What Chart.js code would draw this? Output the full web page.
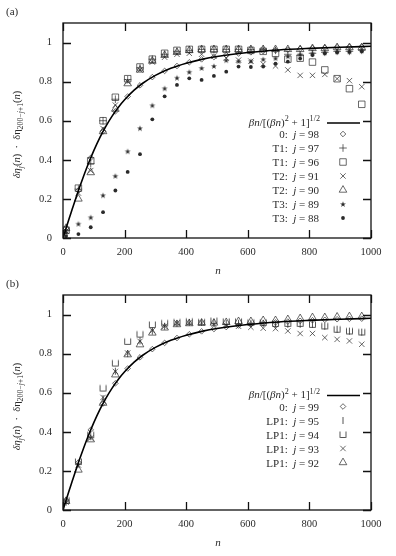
<!DOCTYPE html>
<html><head><meta charset="utf-8">
<script src="https://cdn.jsdelivr.net/npm/chart.js@4/dist/chart.umd.min.js"></script>
<style>
html,body{margin:0;padding:0;background:#fff;}
#wrap{position:relative;width:396px;height:556px;overflow:hidden;background:#fff}
.pane{position:absolute;left:0;width:396px}
</style></head><body>
<div id="wrap">
<div class="pane" style="top:0;height:280px"><canvas id="ca" width="396" height="280"></canvas></div>
<div class="pane" style="top:272px;height:284px"><canvas id="cb" width="396" height="284"></canvas></div>
</div>
<script>
// ---------- data ----------
const nVals = [10,50,90,130,170,210,250,290,330,370,410,450,490,530,570,610,650,690,730,770,810,850,890,930,970];
const xTickVals = [0,200,400,600,800,1000];
const yTickVals = [0,0.2,0.4,0.6,0.8,1];
// reference curve beta*n/[(beta*n)^2+1]^(1/2)
const curveN = [0,10,20,30,40,50,60,80,100,120,140,160,180,200,230,260,300,350,400,450,500,600,700,800,900,1000];
const curveV = [0,0.050,0.100,0.148,0.196,0.243,0.287,0.371,0.447,0.515,0.574,0.625,0.669,0.707,0.755,0.793,0.832,0.868,0.894,0.914,0.929,0.949,0.962,0.970,0.976,0.981];
// panel (a)
const a_0_j98  = [0.05,0.243,0.41,0.545,0.648,0.724,0.781,0.823,0.855,0.88,0.899,0.914,0.926,0.936,0.944,0.95,0.956,0.96,0.964,0.968,0.971,0.973,0.976,0.978,0.979];
const a_T1_j97 = [0.04,0.25,0.38,0.6,0.71,0.81,0.87,0.915,0.94,0.955,0.96,0.965,0.965,0.965,0.965,0.965,0.965,0.96,0.94,0.935,0.945,0.95,0.955,0.955,0.96];
const a_T1_j96 = [0.04,0.255,0.395,0.6,0.72,0.815,0.875,0.915,0.945,0.96,0.965,0.965,0.965,0.965,0.965,0.96,0.955,0.945,0.915,0.92,0.9,0.86,0.815,0.764,0.684];
const a_T2_j91 = [0.035,0.23,0.345,0.56,0.68,0.8,0.86,0.9,0.925,0.94,0.945,0.94,0.93,0.92,0.91,0.905,0.89,0.88,0.86,0.832,0.832,0.837,0.815,0.805,0.774];
const a_T2_j90 = [0.05,0.2,0.335,0.545,0.66,0.79,0.86,0.905,0.935,0.95,0.96,0.965,0.965,0.965,0.965,0.965,0.965,0.965,0.965,0.965,0.97,0.97,0.975,0.975,0.975];
const a_T3_j89 = [0.03,0.073,0.106,0.219,0.318,0.444,0.562,0.679,0.766,0.82,0.85,0.87,0.88,0.91,0.905,0.905,0.915,0.92,0.93,0.94,0.945,0.95,0.955,0.955,0.96];
const a_T3_j88 = [0.01,0.02,0.055,0.132,0.243,0.338,0.429,0.607,0.725,0.783,0.817,0.809,0.829,0.851,0.877,0.875,0.877,0.892,0.902,0.918,0.936,0.945,0.95,0.952,0.955];
// panel (b)
const b_0_j99   = [0.05,0.243,0.41,0.545,0.648,0.724,0.781,0.823,0.855,0.88,0.899,0.914,0.926,0.936,0.944,0.95,0.956,0.96,0.964,0.968,0.971,0.973,0.976,0.978,0.979];
const b_LP1_j95 = [0.04,0.235,0.375,0.57,0.71,0.8,0.865,0.915,0.94,0.955,0.96,0.96,0.96,0.955,0.955,0.955,0.955,0.95,0.95,0.95,0.95,0.94,0.925,0.915,0.91];
const b_LP1_j94 = [0.05,0.248,0.385,0.624,0.752,0.863,0.9,0.949,0.957,0.962,0.966,0.962,0.969,0.965,0.965,0.96,0.96,0.955,0.955,0.955,0.95,0.942,0.925,0.916,0.911];
const b_LP1_j93 = [0.04,0.23,0.368,0.576,0.709,0.803,0.863,0.918,0.94,0.957,0.957,0.957,0.949,0.945,0.94,0.935,0.93,0.928,0.916,0.903,0.903,0.882,0.873,0.865,0.848];
const b_LP1_j92 = [0.045,0.205,0.36,0.547,0.692,0.795,0.846,0.906,0.932,0.949,0.954,0.957,0.957,0.96,0.965,0.965,0.97,0.97,0.975,0.98,0.985,0.985,0.988,0.99,0.99];

// ---------- styling ----------
const INK = '#2a2a2a';
const SERIF = '"Liberation Serif", "DejaVu Serif", serif';

function starImg(){
  const c=document.createElement('canvas'); c.width=8; c.height=8;
  const g=c.getContext('2d'); g.fillStyle=INK; g.beginPath();
  for(let i=0;i<10;i++){const r=i%2?1.2:3.1; const a=-Math.PI/2+i*Math.PI/5; g.lineTo(4+r*Math.cos(a),4.4+r*Math.sin(a));}
  g.closePath(); g.fill(); return c;
}
function cupImg(){
  const c=document.createElement('canvas'); c.width=9; c.height=9;
  const g=c.getContext('2d'); g.strokeStyle=INK; g.lineWidth=0.8; g.beginPath();
  g.moveTo(1.5,1.5); g.lineTo(1.5,7.5); g.lineTo(7.5,7.5); g.lineTo(7.5,1.5); g.stroke(); return c;
}
const MK = {
  diamond:{pointStyle:'rectRot', radius:2.8, bw:0.7, fill:false},
  plus:{pointStyle:'cross', radius:3.8, bw:0.7, fill:false},
  square:{pointStyle:'rect', radius:4.6, bw:0.7, fill:false},
  xmark:{pointStyle:'crossRot', radius:3.8, bw:0.7, fill:false},
  tri:{pointStyle:'triangle', radius:4.4, bw:0.7, fill:false},
  star:{pointStyle:starImg(), radius:3, bw:0, fill:true},
  dot:{pointStyle:'circle', radius:1.9, bw:0, fill:true},
  bar:{pointStyle:'line', radius:3.5, bw:0.8, rotation:90, fill:false},
  cup:{pointStyle:cupImg(), radius:4, bw:0, fill:false}
};

function ds(label, vals, mk){
  return {label, data:nVals.map((n,i)=>({x:n,y:vals[i]})), showLine:false,
    pointStyle:mk.pointStyle, pointRadius:mk.radius, pointRotation:mk.rotation||0,
    pointBorderWidth:mk.bw, pointBorderColor:INK,
    pointBackgroundColor: mk.fill?INK:'rgba(0,0,0,0)'};
}
function curveDs(){
  return {label:'curve', data:curveN.map((n,i)=>({x:n,y:curveV[i]})), showLine:true,
    pointRadius:0, borderColor:'#000', borderWidth:1.6, cubicInterpolationMode:'monotone'};
}

// rich text: segments [text, style] style: r roman, i italic, sub, subi, sup
function segFont(st,size){
  const sc=(st==='sub'||st==='subi'||st==='sup')?0.74:1;
  const it=(st==='i'||st==='subi');
  return {font:(it?'italic ':'')+(size*sc).toFixed(2)+'px '+SERIF, dy:(st==='sub'||st==='subi')?size*0.28:(st==='sup'?-size*0.38:0)};
}
function richWidth(ctx,segs,size){let w=0; for(const [t,st] of segs){ctx.font=segFont(st,size).font; w+=ctx.measureText(t).width;} return w;}
function drawRich(ctx,segs,x,y,size,align){
  let w=richWidth(ctx,segs,size);
  let cx = align==='right'? x-w : (align==='center'? x-w/2 : x);
  ctx.textBaseline='alphabetic'; ctx.textAlign='left';
  for(const [t,st] of segs){const f=segFont(st,size); ctx.font=f.font; ctx.fillText(t,cx,y+f.dy); cx+=ctx.measureText(t).width;}
}

const yTitle = [['δη','i'],['j','subi'],['(','r'],['n','i'],[')  ·  δη','r'],['200−','sub'],['j','subi'],['+1','sub'],['(','r'],['n','i'],[')','r']];
const curveText = [['βn','i'],['/[(','r'],['βn','i'],[')','r'],['2','sup'],[' + 1]','r'],['1/2','sup']];
function entryText(pre,j){return [[pre+':  ','r'],['j','i'],[' = '+j,'r']];}

function makeChart(id, h, panelLabel, datasets, legendRows, legendTop){
  const deco = {
    id:'deco',
    afterDraw(chart){
      const {ctx, chartArea:a, scales:{x,y}} = chart;
      ctx.save();
      ctx.strokeStyle='#111'; ctx.lineWidth=1.3;
      ctx.strokeRect(a.left, a.top, a.right-a.left, a.bottom-a.top);
      ctx.beginPath();
      for(const v of yTickVals){const py=Math.round(y.getPixelForValue(v))+0.5; ctx.moveTo(a.left,py); ctx.lineTo(a.left+8,py); ctx.moveTo(a.right,py); ctx.lineTo(a.right-8,py);}
      for(const v of xTickVals){const px=Math.round(x.getPixelForValue(v))+0.5; ctx.moveTo(px,a.bottom); ctx.lineTo(px,a.bottom-8); ctx.moveTo(px,a.top); ctx.lineTo(px,a.top+8);}
      ctx.stroke();
      ctx.fillStyle=INK;
      ctx.font='11px '+SERIF; ctx.textAlign='left'; ctx.textBaseline='middle';
      ctx.fillText(panelLabel, 6, 12);
      drawRich(ctx,[['n','i']], (a.left+a.right)/2+1, a.bottom+36, 11, 'center');
      ctx.save(); ctx.translate(20,(a.top+a.bottom)/2+4); ctx.rotate(-Math.PI/2);
      drawRich(ctx,yTitle,0,0,10.5,'center'); ctx.restore();
      let ry = legendTop;
      legendRows.forEach((row)=>{
        if(row.curve){
          drawRich(ctx,curveText,320,ry+4,11,'right');
          ctx.strokeStyle='#000'; ctx.lineWidth=1.6; ctx.beginPath(); ctx.moveTo(327,ry+1.5); ctx.lineTo(360,ry+1.5); ctx.stroke();
          ry += 12.5;
        } else {
          ctx.fillStyle=INK;
          drawRich(ctx,row.text,319,ry+4,11,'right');
          const mk=row.mk;
          ctx.strokeStyle=INK; ctx.lineWidth=mk.bw||1; ctx.fillStyle= mk.fill?INK:'rgba(0,0,0,0)';
          Chart.helpers.drawPoint(ctx,{pointStyle:mk.pointStyle,radius:mk.radius,rotation:mk.rotation||0,borderWidth:mk.bw},343,ry);
          ctx.fillStyle=INK;
          ry += 14;
        }
      });
      ctx.restore();
    }
  };
  const tickFont={family:SERIF,size:10.5};
  return new Chart(document.getElementById(id),{
    type:'scatter',
    data:{datasets},
    options:{
      responsive:false, maintainAspectRatio:false, animation:false, events:[],
      layout:{padding:{top:23,right:25,left:0,bottom:0}},
      plugins:{legend:{display:false},tooltip:{enabled:false}},
      scales:{
        x:{type:'linear',min:0,max:1000,
          afterBuildTicks:s=>{s.ticks=xTickVals.map(v=>({value:v}));},
          afterFit:s=>{s.height=h-238;},
          grid:{display:false,drawTicks:false}, border:{display:false},
          ticks:{padding:8,font:tickFont,color:INK,autoSkip:false,maxRotation:0,callback:v=>String(v)}},
        y:{type:'linear',min:0,max:1.1,
          afterBuildTicks:s=>{s.ticks=yTickVals.map(v=>({value:v}));},
          afterFit:s=>{s.width=63;},
          grid:{display:false,drawTicks:false}, border:{display:false},
          ticks:{padding:11,font:tickFont,color:INK,autoSkip:false,callback:v=>String(Math.round(v*10)/10)}}
      }
    },
    plugins:[deco]
  });
}

makeChart('ca',280,'(a)',[
  curveDs(),
  ds('0: j = 98',a_0_j98,MK.diamond),
  ds('T1: j = 97',a_T1_j97,MK.plus),
  ds('T1: j = 96',a_T1_j96,MK.square),
  ds('T2: j = 91',a_T2_j91,MK.xmark),
  ds('T2: j = 90',a_T2_j90,MK.tri),
  ds('T3: j = 89',a_T3_j89,MK.star),
  ds('T3: j = 88',a_T3_j88,MK.dot)
],[
  {curve:true},
  {text:entryText('0','98'),mk:MK.diamond},
  {text:entryText('T1','97'),mk:MK.plus},
  {text:entryText('T1','96'),mk:MK.square},
  {text:entryText('T2','91'),mk:MK.xmark},
  {text:entryText('T2','90'),mk:MK.tri},
  {text:entryText('T3','89'),mk:MK.star},
  {text:entryText('T3','88'),mk:MK.dot}
],121.5);

makeChart('cb',284,'(b)',[
  curveDs(),
  ds('0: j = 99',b_0_j99,MK.diamond),
  ds('LP1: j = 95',b_LP1_j95,MK.bar),
  ds('LP1: j = 94',b_LP1_j94,MK.cup),
  ds('LP1: j = 93',b_LP1_j93,MK.xmark),
  ds('LP1: j = 92',b_LP1_j92,MK.tri)
],[
  {curve:true},
  {text:entryText('0','99'),mk:MK.diamond},
  {text:entryText('LP1','95'),mk:MK.bar},
  {text:entryText('LP1','94'),mk:MK.cup},
  {text:entryText('LP1','93'),mk:MK.xmark},
  {text:entryText('LP1','92'),mk:MK.tri}
],122);
</script>
</body></html>
